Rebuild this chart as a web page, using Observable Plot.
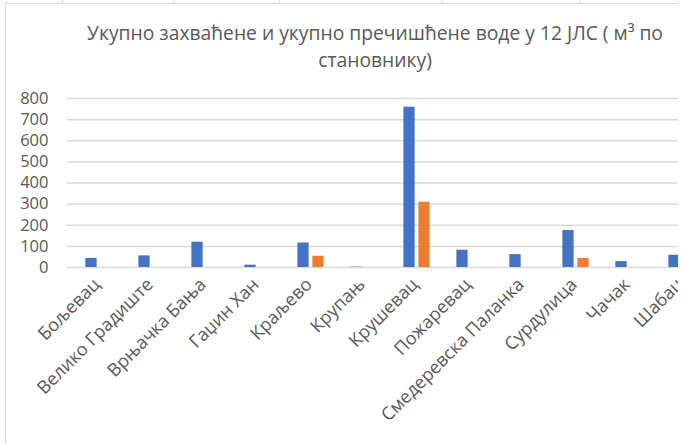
<!DOCTYPE html>
<html>
<head>
<meta charset="utf-8">
<script src="https://cdn.jsdelivr.net/npm/d3@7"></script>
<script src="https://cdn.jsdelivr.net/npm/@observablehq/plot@0.6"></script>
<style>
  html, body { margin: 0; padding: 0; background: #fff; }
  #wrap { position: relative; width: 686px; height: 444px; overflow: hidden; background: #fff; }
  #clip { position: absolute; left: 0; top: 0; width: 678px; height: 444px; overflow: hidden; }
  #title { position: absolute; left: 5px; top: 19px; width: 740px; text-align: center;
           font-family: "Open Sans", sans-serif; font-size: 19.3px; line-height: 27px; color: #595959; }
  #chart { position: absolute; left: 0; top: 80px; }
  .vline { position: absolute; background: #d9d9d9; width: 1px; }
  .hline { position: absolute; background: #d9d9d9; height: 1px; }
</style>
</head>
<body>
<div id="wrap">
  <div class="hline" style="left:5px;top:3px;width:673px;"></div>
  <div class="vline" style="left:5px;top:3px;height:441px;"></div>
  <div class="vline" style="left:62px;top:0;height:3px;"></div>
  <div class="vline" style="left:173px;top:0;height:3px;"></div>
  <div class="vline" style="left:279px;top:0;height:3px;"></div>
  <div class="vline" style="left:442px;top:0;height:3px;"></div>
  <div class="vline" style="left:580px;top:0;height:3px;"></div>
  <div class="vline" style="left:678px;top:0;height:3px;"></div>
  <div id="clip">
    <div id="title">Укупно захваћене и укупно пречишћене воде у 12 ЈЛС ( м³ по<br>становнику)</div>
    <div id="chart"></div>
  </div>
</div>
<script>
const categories = ["Бољевац","Велико Градиште","Врњачка Бања","Гаџин Хан","Краљево","Крупањ","Крушевац","Пожаревац","Смедеревска Паланка","Сурдулица","Чачак","Шабац"];
const captured = [43, 55, 120, 11, 116, 2, 759, 82, 61, 175, 28, 58];
const treated  = [0, 0, 0, 0, 53, 0, 309, 0, 0, 43, 0, 0];
const yTicks = [0, 100, 200, 300, 400, 500, 600, 700, 800];

const dataCaptured = categories.map((c, i) => ({category: c, value: captured[i]}));
const dataTreated = categories.map((c, i) => ({category: c, value: treated[i]}));

const bandW = 645 / 12;
const barW = 12;
const inset = (bandW - barW) / 2;

const chart = Plot.plot({
  width: 746,
  height: 364,
  marginLeft: 67,
  marginRight: 34,
  marginTop: 18,
  marginBottom: 177,
  style: {fontFamily: "Open Sans, sans-serif", color: "#595959", background: "transparent", overflow: "visible", maxWidth: "none"},
  x: {domain: categories, padding: 0, label: null},
  y: {domain: [0, 800], label: null},
  marks: [
    Plot.gridY(yTicks, {stroke: "#d9d9d9", strokeOpacity: 1, strokeWidth: 1.5}),
    Plot.barY(dataCaptured, {x: "category", y: "value", fill: "#4472c4", insetLeft: inset, insetRight: inset, dx: -7.5}),
    Plot.barY(dataTreated.filter(d => d.value > 0), {x: "category", y: "value", fill: "#ed7d31", insetLeft: inset, insetRight: inset, dx: 7.5}),
    Plot.axisY(yTicks, {tickSize: 0, tickPadding: 19, fontSize: 16.5, fill: "#595959", label: null}),
    Plot.axisX({tickSize: 0, tickPadding: 14, tickRotate: -45, fontSize: 18, dx: -2, fill: "#595959", label: null})
  ]
});
document.getElementById("chart").appendChild(chart);
</script>
</body>
</html>
